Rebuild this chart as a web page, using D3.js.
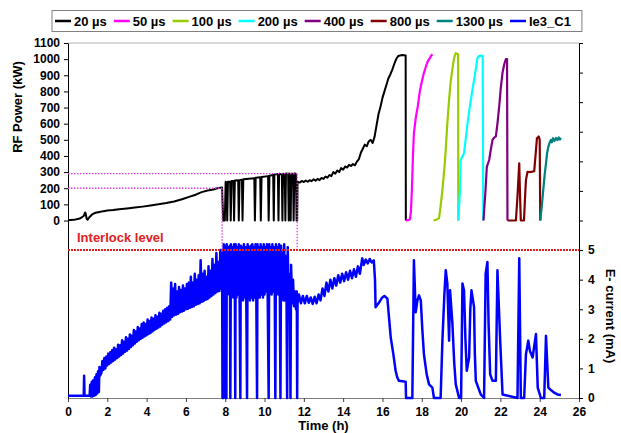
<!DOCTYPE html>
<html>
<head>
<meta charset="utf-8">
<style>
  body { margin: 0; background: #fff; }
  svg { font-family: "Liberation Sans", Arial, sans-serif; font-weight: bold; }
  .axis text { font-size: 12px; font-weight: bold; fill: #000; font-family: "Liberation Sans", Arial, sans-serif; }
</style>
</head>
<body>
<svg id="chart" width="621" height="433"></svg>
<script src="https://cdn.jsdelivr.net/npm/d3@7"></script>
<script>
// series names and colours
const seriesNames = ["20 µs", "50 µs", "100 µs", "200 µs", "400 µs", "800 µs", "1300 µs", "Ie3_C1"];
const seriesColors = ["#000000", "#FF00FF", "#99CC00", "#00FFFF", "#800080", "#800000", "#008080", "#0000FF"];

// RF power, [time h, kW]
const p20 = [
  [0,2],[0.3,4],[0.6,12],[0.8,28],[0.87,50],[0.9,42],[0.95,10],[1.0,5],[1.1,22],[1.25,40],[1.4,48],[1.6,53],
  [1.8,58],[2.0,62],[2.3,65],[2.6,70],[3.0,75],[3.4,80],[3.8,86],[4.2,93],[4.6,100],[5.0,108],[5.4,118],
  [5.8,132],[6.2,148],[6.5,160],[6.8,176],[7.1,186],[7.4,192],[7.6,200],[7.84,205],
  [7.86,120],[7.9,0],[7.98,0],[8.02,240],[8.07,235],[8.1,0],[8.14,240],[8.25,240],[8.28,0],[8.32,245],
  [8.42,245],[8.45,0],[8.49,248],[8.66,250],[8.69,0],[8.73,250],[8.85,252],[8.88,0],[8.92,255],[9.48,262],
  [9.51,0],[9.55,265],[9.78,268],[9.81,0],[9.85,270],[10.18,275],[10.21,0],[10.25,278],[10.44,282],[10.47,0],
  [10.5,285],[10.68,288],[10.71,0],[10.74,290],[10.88,285],[10.91,0],[10.94,290],[11.03,288],[11.06,0],
  [11.09,292],[11.2,290],[11.23,0],[11.26,292],[11.3,285],[11.33,0],[11.36,290],[11.45,290],[11.48,0],
  [11.52,292],[11.6,290],[11.63,0],[11.66,0],[11.68,240],
  [11.8,235],[11.9,245],[12.0,238],[12.1,248],[12.2,240],[12.3,250],[12.4,244],[12.5,255],[12.6,247],
  [12.7,258],[12.8,250],[12.9,264],[13.0,258],[13.1,272],[13.2,265],[13.3,282],[13.4,275],[13.5,300],
  [13.6,290],[13.7,310],[13.8,300],[13.9,325],[14.0,315],[14.1,335],[14.2,328],[14.3,345],[14.4,338],
  [14.5,350],[14.6,342],[14.7,365],[14.8,380],[14.9,420],[15.0,445],[15.1,470],[15.2,460],[15.3,490],
  [15.4,500],[15.5,480],[15.6,520],[15.7,590],[15.8,660],[15.9,705],[16.0,760],[16.1,800],[16.2,840],
  [16.3,880],[16.4,905],[16.5,935],[16.6,970],[16.7,1000],[16.8,1020],[17.0,1025],[17.18,1022],[17.19,0]
];
const p50 = [
  [17.19,0],[17.3,2],[17.4,8],[17.45,60],[17.5,200],[17.55,400],[17.6,540],[17.7,640],[17.8,710],[17.9,800],
  [17.95,830],[18.0,860],[18.1,910],[18.2,950],[18.3,985],[18.4,1005],[18.5,1025],[18.55,1030]
];
const p100 = [
  [18.6,0],[18.75,5],[18.88,15],[18.95,80],[19.05,190],[19.15,320],[19.22,440],[19.3,600],[19.39,750],
  [19.47,860],[19.56,940],[19.65,1010],[19.73,1037],[19.85,1030],[19.86,0]
];
const p200 = [
  [19.86,0],[19.95,200],[19.98,375],[20.05,390],[20.15,417],[20.25,520],[20.33,604],[20.45,710],[20.58,812],
  [20.7,900],[20.84,1010],[20.95,1022],[21.1,1020],[21.13,0]
];
const p400 = [
  [21.14,0],[21.25,200],[21.31,333],[21.43,375],[21.5,430],[21.6,500],[21.7,515],[21.77,521],[21.85,600],
  [21.94,708],[22.02,820],[22.11,917],[22.2,970],[22.28,1000],[22.34,1000],[22.36,0]
];
const p800 = [
  [22.36,0],[22.79,0],[22.87,150],[22.96,354],[23.0,150],[23.04,0],[23.2,0],[23.27,180],[23.3,250],[23.38,302],
  [23.5,300],[23.72,305],[23.8,420],[23.86,510],[23.95,521],[24.0,500],[24.03,0]
];
const p1300 = [
  [24.03,0],[24.1,80],[24.15,146],[24.25,280],[24.32,354],[24.38,420],[24.44,458],[24.5,480],[24.57,500],
  [24.62,485],[24.68,510],[24.75,492],[24.83,512],[24.9,498],[24.97,515],[25.03,502],[25.08,512]
];

// electron current, [time h, mA]
const ie3 = [
  [0,0.08],[0.8,0.08],[0.82,0.75],[0.84,0.08],[1.1,0.08],[1.13,0.45],[1.17,0.05],[1.21,0.55],[1.25,0.05],
  [1.29,0.6],[1.33,0.08],[1.37,0.7],[1.41,0.1],[1.45,0.8],[1.49,0.15],[1.53,0.9],[1.57,0.2],[1.6,1.05],[1.63,0.75],
  [1.70,0.85],[1.75,1.25],[1.80,0.95],[1.85,1.35],[1.90,1.0],[1.95,1.4],[2.00,1.1],[2.05,1.5],[2.10,1.15],
  [2.15,1.55],[2.20,1.2],[2.25,1.62],[2.30,1.25],[2.35,1.7],[2.40,1.3],[2.45,1.65],[2.50,1.35],[2.55,1.8],
  [2.60,1.4],[2.65,1.78],[2.70,1.45],[2.75,1.95],[2.80,1.5],[2.85,1.9],[2.90,1.56],[2.95,2.05],[3.00,1.6],
  [3.05,2.0],[3.10,1.66],[3.15,2.15],[3.20,1.72],[3.25,2.1],[3.30,1.78],[3.35,2.3],[3.40,1.84],[3.45,2.25],
  [3.50,1.9],[3.55,2.4],[3.60,1.95],[3.65,2.35],[3.70,2.0],[3.75,2.5],[3.80,2.04],[3.85,2.55],[3.90,2.08],
  [3.95,2.5],[4.00,2.12],[4.05,2.65],[4.10,2.16],[4.15,2.6],[4.20,2.2],[4.25,2.72],[4.30,2.25],[4.35,2.68],
  [4.40,2.3],[4.45,2.8],[4.50,2.34],[4.55,2.75],[4.60,2.38],[4.65,2.88],[4.70,2.42],[4.75,2.85],[4.80,2.48],
  [4.85,2.95],[4.90,2.52],[4.95,3.0],[5.00,2.56],[5.05,3.05],[5.10,2.6],[5.15,3.1],[5.20,2.65],
  [5.25,3.9],[5.30,2.75],[5.35,3.7],[5.40,2.8],[5.45,3.85],[5.50,2.82],[5.55,3.6],[5.60,2.85],[5.65,3.75],
  [5.70,2.9],[5.75,3.65],[5.80,2.92],[5.85,3.8],[5.90,2.95],[5.95,3.7],[6.00,3.0],[6.05,3.85],[6.10,3.02],
  [6.15,3.9],[6.20,3.05],[6.25,4.1],[6.30,3.08],[6.35,3.9],[6.40,3.1],[6.45,4.2],[6.50,3.15],[6.55,4.0],
  [6.60,3.18],[6.65,4.15],[6.70,3.2],[6.75,4.66],[6.80,3.25],[6.85,4.2],[6.90,3.28],[6.95,4.3],[7.00,3.32],
  [7.05,4.1],[7.10,3.35],[7.15,4.45],[7.20,3.4],[7.25,4.3],[7.30,3.45],[7.35,4.7],[7.40,3.5],[7.45,4.5],
  [7.50,3.55],[7.55,4.9],[7.60,3.6],[7.65,4.6],[7.70,3.62],[7.75,5.0],[7.80,3.7],
  [7.84,4.9],[7.86,0],[7.9,0],[7.92,5.2],[7.96,3.6],[8.0,5.15],[8.02,0],[8.06,0],[8.08,5.2],[8.12,3.5],
  [8.16,5.1],[8.2,3.6],[8.24,5.15],[8.26,0],[8.29,5.2],[8.33,3.5],[8.37,5.1],[8.41,3.4],[8.45,5.2],[8.49,3.5],
  [8.51,0],[8.53,5.2],[8.57,3.4],[8.61,5.1],[8.65,3.5],[8.69,5.2],[8.73,3.4],[8.77,0],[8.79,5.15],[8.83,3.4],
  [8.87,5.1],[8.91,3.3],[8.95,5.2],[8.99,3.4],[9.03,5.1],[9.07,3.4],[9.11,0],[9.14,5.2],[9.18,3.4],[9.22,5.1],
  [9.26,3.3],[9.3,5.15],[9.34,3.4],[9.38,5.2],[9.42,3.3],[9.46,5.1],[9.5,3.4],[9.54,5.2],[9.58,3.5],[9.62,0],
  [9.64,5.2],[9.68,3.4],[9.72,5.1],[9.76,3.4],[9.8,5.2],[9.84,3.5],[9.88,5.1],[9.92,3.4],[9.96,5.2],[10.0,3.5],
  [10.04,5.1],[10.08,3.6],[10.12,5.2],[10.16,3.5],[10.21,0],[10.24,5.2],[10.28,3.6],[10.32,5.1],[10.36,3.5],
  [10.4,5.2],[10.44,3.6],[10.48,5.1],[10.52,3.5],[10.55,0],[10.58,5.2],[10.62,3.6],[10.66,5.1],[10.7,3.5],
  [10.74,5.2],[10.78,3.4],[10.81,0],[10.84,5.15],[10.88,3.5],[10.92,4.9],[10.96,3.3],[11.0,5.2],[11.04,3.3],
  [11.08,4.8],[11.12,3.2],[11.15,0],[11.18,5.1],[11.22,3.3],[11.26,4.2],[11.29,3.1],[11.32,0],[11.35,4.5],
  [11.4,3.2],[11.45,4.0],[11.5,3.1],[11.55,3.6],[11.6,3.0],[11.64,3.6],[11.66,0],[11.68,3.2],
  [11.75,3.5],[11.85,3.2],[11.95,3.45],[12.05,3.2],[12.15,3.45],[12.25,3.22],[12.35,3.4],[12.45,3.18],
  [12.55,3.42],[12.65,3.2],[12.75,3.5],[12.85,3.3],[12.95,3.7],[13.05,3.45],[13.15,3.9],[13.25,3.6],
  [13.35,4.0],[13.45,3.7],[13.55,4.05],[13.65,3.8],[13.75,4.15],[13.85,3.9],[13.95,4.2],[14.05,3.95],
  [14.15,4.25],[14.25,4.0],[14.35,4.3],[14.45,4.05],[14.55,4.35],[14.65,4.1],[14.75,4.45],[14.85,4.2],
  [14.92,4.5],[14.97,4.72],[15.05,4.5],[15.15,4.68],[15.25,4.55],[15.35,4.7],[15.45,4.58],[15.56,4.65],
  [15.62,4.0],[15.65,3.07],
  [15.8,3.2],[15.99,3.4],[16.1,3.45],[16.25,3.36],[16.35,2.6],[16.42,2.05],[16.55,1.5],[16.67,0.92],
  [16.75,0.7],[16.84,0.58],[17.18,0.55],[17.2,0],[17.52,0],[17.6,4.66],[17.69,2.9],[17.78,3.3],[17.86,3.47],
  [17.95,3.3],[18.03,2.3],[18.11,1.48],[18.25,0.8],[18.37,0.46],[18.54,0.35],[18.62,0],[18.96,0],[19.05,1.94],
  [19.15,3.5],[19.22,4.32],[19.3,3.87],[19.39,1.94],[19.44,3.64],[19.56,2.5],[19.65,1.2],[19.73,0.46],[19.9,0],
  [20.0,0],[20.07,3.87],[20.15,3.64],[20.22,2.0],[20.29,0.92],[20.41,1.37],[20.47,3.0],[20.53,3.64],[20.66,3.07],
  [20.7,1.5],[20.75,0.58],[21.0,0.12],[21.17,0],[21.25,4.2],[21.34,4.6],[21.4,2.5],[21.48,0.8],[21.6,0.58],
  [21.77,0.58],[21.85,4.32],[21.99,1.94],[22.11,0.12],[22.87,0],[22.96,4.72],[23.04,0],[23.21,0],[23.3,1.48],
  [23.42,1.94],[23.5,1.6],[23.64,1.37],[23.81,2.16],[23.9,0.35],[24.06,0],[24.23,0],[24.32,2.1],[24.44,0.35],
  [24.6,0.25],[24.74,0.18],[24.9,0.12],[25.08,0.1]
];

const powerSeries = [p20, p50, p100, p200, p400, p800, p1300];

// axis ticks
const xTicks = d3.range(0, 27, 2);
const powerTicks = d3.range(0, 1101, 100);
const currentTicks = d3.range(0, 13, 1);
const interlockLevel = 5;          // mA
const windowHours = [7.84, 11.66]; // dotted box
const windowPower = [200, 290];    // kW

const svg = d3.select("#chart");
const margin = {top: 43, right: 42, bottom: 35, left: 68};
const width = 621 - margin.left - margin.right;
const height = 433 - margin.top - margin.bottom;
const g = svg.append("g").attr("transform", `translate(${margin.left},${margin.top})`);

const x = d3.scaleLinear().domain([0, 26]).range([0, width]);
const yL = d3.scaleLinear().domain([-1100, 1100]).range([height, 0]);
const yR = d3.scaleLinear().domain([0, 12]).range([height, 0]);

// plot border top
g.append("line").attr("x1", 0).attr("x2", width).attr("y1", 0).attr("y2", 0)
  .attr("stroke", "#b0b0b0").attr("stroke-width", 1);

// x axis
const xAxis = g.append("g").attr("class", "axis")
  .attr("transform", `translate(0,${height})`)
  .call(d3.axisBottom(x).tickValues(xTicks).tickSize(4).tickSizeOuter(0).tickPadding(5));
xAxis.select(".domain").attr("stroke", "#808080");
xAxis.selectAll(".tick line").attr("stroke", "#404040");

// left axis
const yAxisL = g.append("g").attr("class", "axis")
  .call(d3.axisLeft(yL).tickValues(powerTicks).tickFormat(d3.format("d"))
    .tickSize(4).tickSizeOuter(0).tickPadding(4));
yAxisL.select(".domain").attr("stroke", "#000");

// right axis
const yAxisR = g.append("g").attr("class", "axis")
  .attr("transform", `translate(${width},0)`)
  .call(d3.axisRight(yR).tickValues(currentTicks).tickSize(4).tickSizeOuter(0).tickPadding(5)
    .tickFormat(d => d <= 5 ? d : ""));
yAxisR.select(".domain").attr("stroke", "#000");

// lines
const lineR = d3.line().x(d => x(d[0])).y(d => yR(d[1]));
const lineL = d3.line().x(d => x(d[0])).y(d => yL(d[1]));

g.append("path").datum(ie3)
  .attr("fill", "none").attr("stroke", seriesColors[7]).attr("stroke-width", 2.5)
  .attr("stroke-linejoin", "round").attr("d", lineR);

powerSeries.forEach((s, i) => {
  g.append("path").datum(s)
    .attr("fill", "none").attr("stroke", seriesColors[i]).attr("stroke-width", i === 0 ? 2 : 2.2)
    .attr("stroke-linejoin", "round").attr("d", lineL);
});

// dotted window
const pink = "#E040E0";
const dotted = g.append("g").attr("stroke", pink).attr("stroke-width", 1.3).attr("stroke-dasharray", "1.5,1.5");
dotted.append("line").attr("x1", 0).attr("x2", x(windowHours[0]))
  .attr("y1", yL(windowPower[0])).attr("y2", yL(windowPower[0]));
dotted.append("line").attr("x1", 0).attr("x2", x(windowHours[1]))
  .attr("y1", yL(windowPower[1])).attr("y2", yL(windowPower[1]));
dotted.append("line").attr("x1", x(windowHours[0])).attr("x2", x(windowHours[0]))
  .attr("y1", yL(windowPower[0])).attr("y2", yR(interlockLevel));
dotted.append("line").attr("x1", x(windowHours[1])).attr("x2", x(windowHours[1]))
  .attr("y1", yL(windowPower[1])).attr("y2", yR(interlockLevel));

// interlock level
g.append("line").attr("x1", 0).attr("x2", width)
  .attr("y1", yR(interlockLevel)).attr("y2", yR(interlockLevel))
  .attr("stroke", "#E02020").attr("stroke-width", 2).attr("stroke-dasharray", "2,1");
g.append("text").attr("x", 9).attr("y", yR(interlockLevel) - 8)
  .attr("fill", "#E02020").attr("font-size", 13).attr("font-weight", "bold")
  .text("Interlock level");

// axis titles
svg.append("text").attr("transform", "translate(22,107) rotate(-90)")
  .attr("text-anchor", "middle").attr("font-size", 13).text("RF Power (kW)");
svg.append("text").attr("transform", "translate(606,316) rotate(90)")
  .attr("text-anchor", "middle").attr("font-size", 13).text("E- current (mA)");
svg.append("text").attr("x", margin.left + x(13)).attr("y", 430)
  .attr("text-anchor", "middle").attr("font-size", 13).text("Time (h)");

// legend
const legend = svg.append("g");
const legendBox = legend.append("rect").attr("fill", "#fff").attr("stroke", "#808080").attr("stroke-width", 1);
let lx = 55;
seriesNames.forEach((name, i) => {
  legend.append("line").attr("x1", lx).attr("x2", lx + 16).attr("y1", 21).attr("y2", 21)
    .attr("stroke", seriesColors[i]).attr("stroke-width", 2.5);
  const t = legend.append("text").attr("x", lx + 19).attr("y", 25.5)
    .attr("font-size", 13).text(name);
  lx += 19 + t.node().getComputedTextLength() + 7;
});
legendBox.attr("x", 52).attr("y", 10.5).attr("width", lx - 52 + 4).attr("height", 21);
</script>
</body>
</html>
